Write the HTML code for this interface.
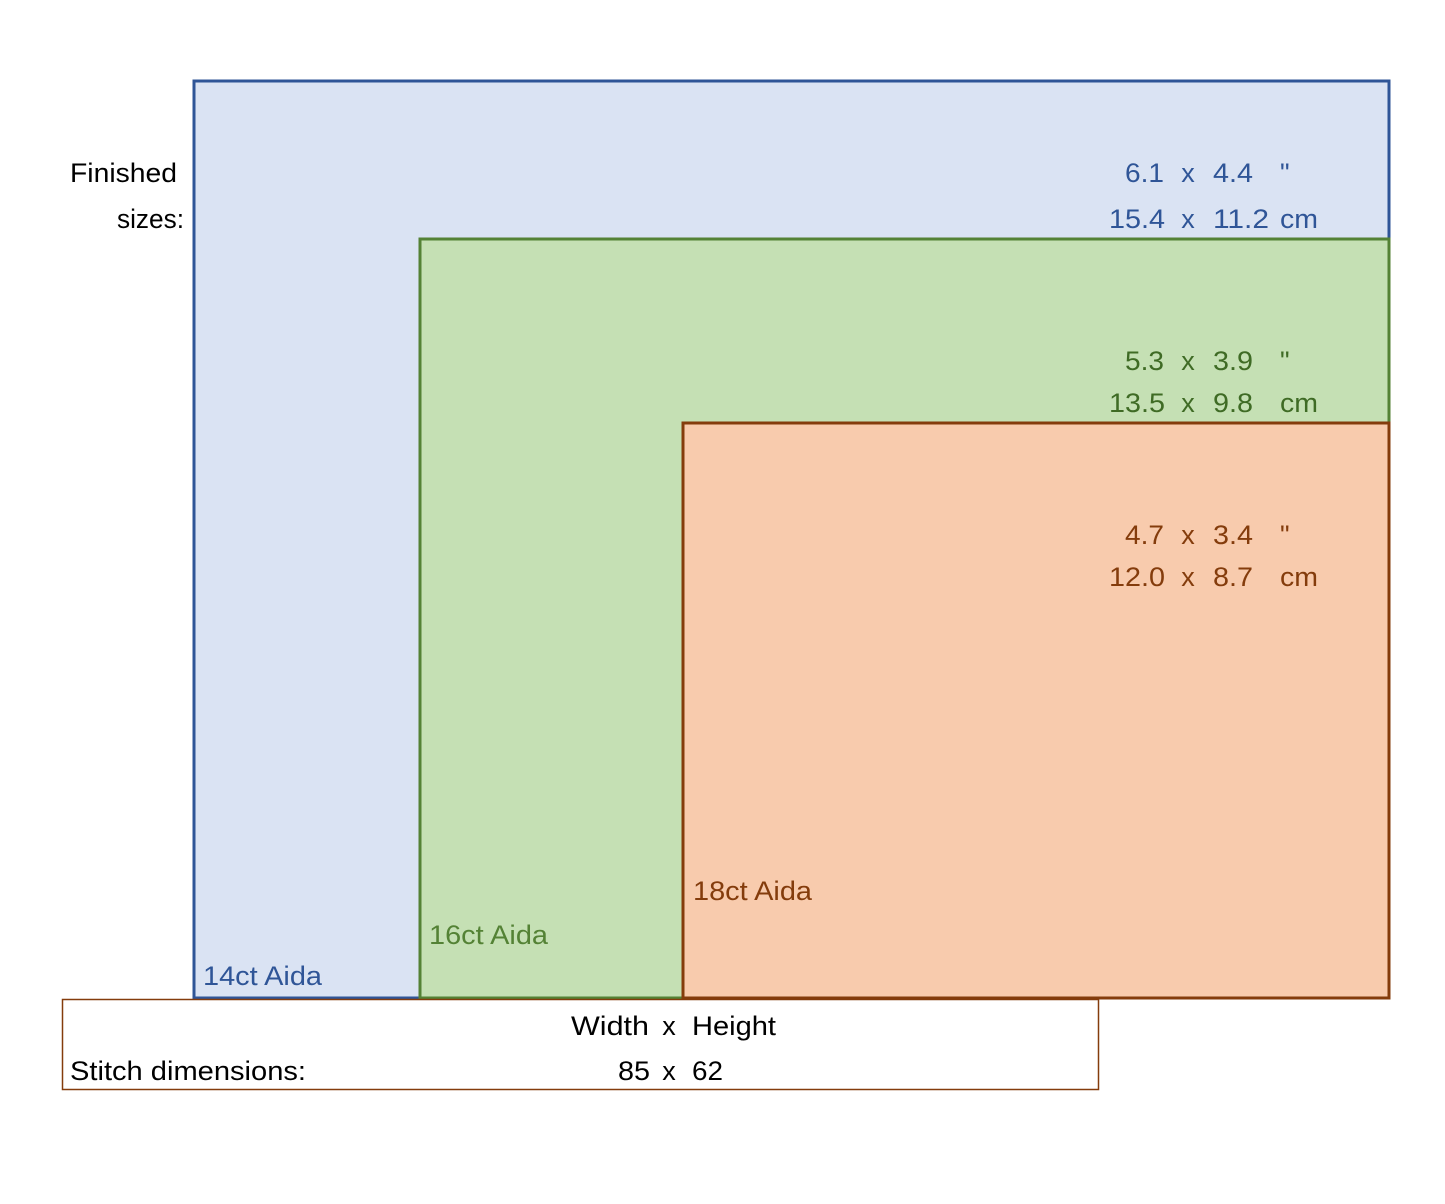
<!DOCTYPE html>
<html><head><meta charset="utf-8"><style>
html,body{margin:0;padding:0;background:#fff;}
svg{display:block;}
text{font-family:"Liberation Sans",sans-serif;font-size:27px;}
</style></head><body>
<svg width="1445" height="1204" viewBox="0 0 1445 1204" xmlns="http://www.w3.org/2000/svg">
<rect x="0" y="0" width="1445" height="1204" fill="#fff"/>
<rect x="194" y="81" width="1195" height="917" fill="#dae3f3" stroke="#2f5597" stroke-width="3"/>
<rect x="420" y="239" width="969" height="759" fill="#c5e0b4" stroke="#548235" stroke-width="3"/>
<rect x="683" y="423" width="706" height="575" fill="#f8cbad" stroke="#843c0c" stroke-width="3"/>
<rect x="62.5" y="999.5" width="1036" height="90" fill="none" stroke="#843c0c" stroke-width="1.5"/>

<text x="70" y="182" fill="#000" textLength="107" lengthAdjust="spacingAndGlyphs">Finished</text>
<text x="117" y="228" fill="#000" textLength="67" lengthAdjust="spacingAndGlyphs">sizes:</text>

<g fill="#2f5597">
<text x="1125" y="182" textLength="39" lengthAdjust="spacingAndGlyphs">6.1</text>
<text x="1188" y="182" text-anchor="middle">x</text>
<text x="1213" y="182" textLength="40" lengthAdjust="spacingAndGlyphs">4.4</text>
<text x="1280" y="182">"</text>
<text x="1109" y="228" textLength="56" lengthAdjust="spacingAndGlyphs">15.4</text>
<text x="1188" y="228" text-anchor="middle">x</text>
<text x="1213" y="228" textLength="56" lengthAdjust="spacingAndGlyphs">11.2</text>
<text x="1280" y="228" textLength="38" lengthAdjust="spacingAndGlyphs">cm</text>
<text x="203" y="985" textLength="119" lengthAdjust="spacingAndGlyphs">14ct Aida</text>
</g>
<g fill="#3f6b25">
<text x="1125" y="370" textLength="39" lengthAdjust="spacingAndGlyphs">5.3</text>
<text x="1188" y="370" text-anchor="middle">x</text>
<text x="1213" y="370" textLength="40" lengthAdjust="spacingAndGlyphs">3.9</text>
<text x="1280" y="370">"</text>
<text x="1109" y="412" textLength="56" lengthAdjust="spacingAndGlyphs">13.5</text>
<text x="1188" y="412" text-anchor="middle">x</text>
<text x="1213" y="412" textLength="40" lengthAdjust="spacingAndGlyphs">9.8</text>
<text x="1280" y="412" textLength="38" lengthAdjust="spacingAndGlyphs">cm</text>
</g>
<text x="429" y="944" fill="#548235" textLength="119" lengthAdjust="spacingAndGlyphs">16ct Aida</text>
<g fill="#843c0c">
<text x="1125" y="544" textLength="39" lengthAdjust="spacingAndGlyphs">4.7</text>
<text x="1188" y="544" text-anchor="middle">x</text>
<text x="1213" y="544" textLength="40" lengthAdjust="spacingAndGlyphs">3.4</text>
<text x="1280" y="544">"</text>
<text x="1109" y="586" textLength="56" lengthAdjust="spacingAndGlyphs">12.0</text>
<text x="1188" y="586" text-anchor="middle">x</text>
<text x="1213" y="586" textLength="40" lengthAdjust="spacingAndGlyphs">8.7</text>
<text x="1280" y="586" textLength="38" lengthAdjust="spacingAndGlyphs">cm</text>
<text x="693" y="900" textLength="119" lengthAdjust="spacingAndGlyphs">18ct Aida</text>
</g>
<g fill="#000">
<text x="571" y="1035" textLength="78" lengthAdjust="spacingAndGlyphs">Width</text>
<text x="669" y="1035" text-anchor="middle">x</text>
<text x="692" y="1035" textLength="84" lengthAdjust="spacingAndGlyphs">Height</text>
<text x="618" y="1080" textLength="32" lengthAdjust="spacingAndGlyphs">85</text>
<text x="669" y="1080" text-anchor="middle">x</text>
<text x="692" y="1080" textLength="31" lengthAdjust="spacingAndGlyphs">62</text>
<text x="70" y="1080" textLength="236" lengthAdjust="spacingAndGlyphs">Stitch dimensions:</text>
</g>
</svg>
</body></html>
